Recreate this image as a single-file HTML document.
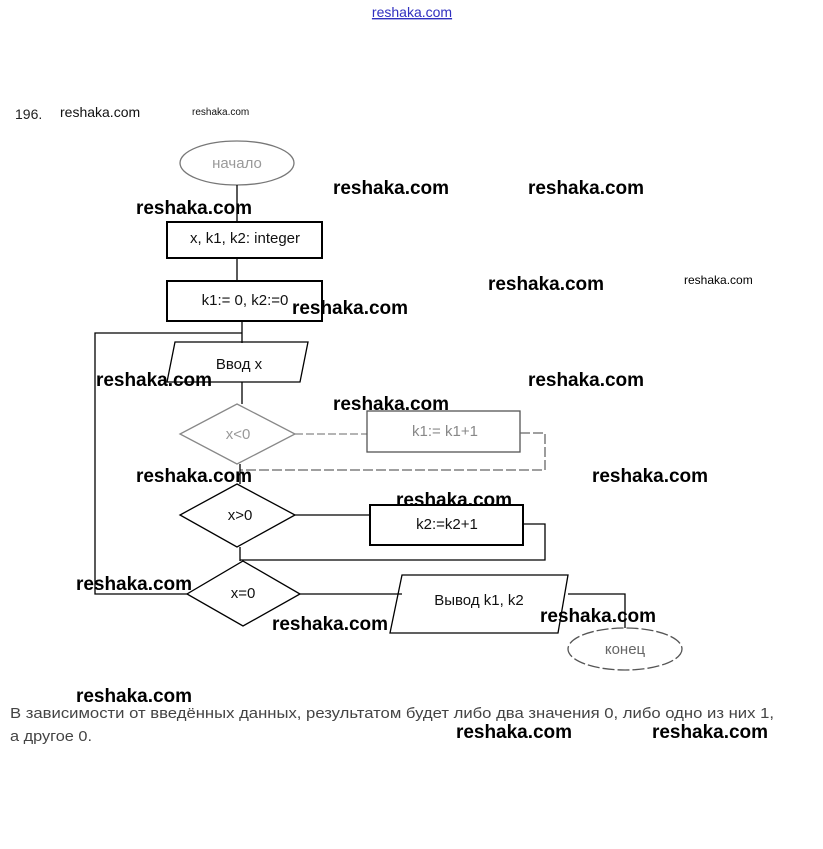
<!DOCTYPE html>
<html><head><meta charset="utf-8"><style>
html,body{margin:0;padding:0;background:#fff;}
svg{display:block;}
</style></head><body>
<svg width="823" height="849" viewBox="0 0 823 849" xmlns="http://www.w3.org/2000/svg" font-family="Liberation Sans, sans-serif">
<text x="412" y="17" font-size="14" fill="#3030c0" text-anchor="middle" text-decoration="underline">reshaka.com</text>
<text x="15" y="119" font-size="14" fill="#222">196.</text>
<text x="60" y="117" font-size="14" fill="#111">reshaka.com</text>
<text x="192" y="115" font-size="10" fill="#111">reshaka.com</text>

<g fill="none" stroke="#000" stroke-width="1.3">
<ellipse cx="237" cy="163" rx="57" ry="22" stroke="#777"/>
<line x1="237" y1="185" x2="237" y2="222"/>
<rect x="167" y="222" width="155" height="36" stroke-width="2"/>
<line x1="237" y1="258" x2="237" y2="281"/>
<rect x="167" y="281" width="155" height="40" stroke-width="2"/>
<line x1="242" y1="321" x2="242" y2="343"/>
<polyline points="242,333 95,333 95,594 187,594"/>
<polygon points="175,342 308,342 300,382 167,382"/>
<line x1="242" y1="382" x2="242" y2="404"/>
<polygon points="237,404 295,434 237,464 180,434" stroke="#888"/>
<line x1="295" y1="434" x2="367" y2="434" stroke="#888" stroke-dasharray="8 3"/>
<rect x="367" y="411" width="153" height="41" stroke="#555"/>
<polyline points="520,433 545,433 545,470 240,470" stroke="#666" stroke-dasharray="10 3"/>
<line x1="240" y1="464" x2="240" y2="484"/>
<polygon points="237,484 295,515 237,547 180,515"/>
<line x1="295" y1="515" x2="370" y2="515"/>
<rect x="370" y="505" width="153" height="40" stroke-width="2"/>
<polyline points="523,524 545,524 545,560 240,560"/>
<line x1="240" y1="547" x2="240" y2="561"/>
<polygon points="243,561 300,594 243,626 187,594"/>
<line x1="300" y1="594" x2="402" y2="594"/>
<polygon points="402,575 568,575 558,633 390,633"/>
<polyline points="568,594 625,594 625,628"/>
<ellipse cx="625" cy="649" rx="57" ry="21" stroke="#555" stroke-dasharray="12 3"/>
</g>

<g font-size="15" text-anchor="middle" fill="#111">
<text x="237" y="168" fill="#999">начало</text>
<text x="245" y="243">x, k1, k2: integer</text>
<text x="245" y="305">k1:= 0, k2:=0</text>
<text x="239" y="369">Ввод x</text>
<text x="238" y="439" fill="#999">x&lt;0</text>
<text x="445" y="436" fill="#888">k1:= k1+1</text>
<text x="240" y="520">x&gt;0</text>
<text x="447" y="529">k2:=k2+1</text>
<text x="243" y="598">x=0</text>
<text x="479" y="605">Вывод k1, k2</text>
<text x="625" y="654" fill="#666">конец</text>
</g>

<text x="10" y="718" font-size="15" fill="#444" textLength="764" lengthAdjust="spacingAndGlyphs">В зависимости от введённых данных, результатом будет либо два значения 0, либо одно из них 1,</text>
<text x="10" y="741" font-size="15" fill="#444" textLength="82" lengthAdjust="spacingAndGlyphs">а другое 0.</text>

<g font-size="19" font-weight="bold" fill="#000">
<text x="333" y="194" textLength="116">reshaka.com</text>
<text x="528" y="194" textLength="116">reshaka.com</text>
<text x="136" y="214" textLength="116">reshaka.com</text>
<text x="488" y="290" textLength="116">reshaka.com</text>
<text x="292" y="314" textLength="116">reshaka.com</text>
<text x="96" y="386" textLength="116">reshaka.com</text>
<text x="528" y="386" textLength="116">reshaka.com</text>
<text x="333" y="410" textLength="116">reshaka.com</text>
<text x="136" y="482" textLength="116">reshaka.com</text>
<text x="592" y="482" textLength="116">reshaka.com</text>
<text x="396" y="506" textLength="116">reshaka.com</text>
<text x="76" y="590" textLength="116">reshaka.com</text>
<text x="272" y="630" textLength="116">reshaka.com</text>
<text x="540" y="622" textLength="116">reshaka.com</text>
<text x="76" y="702" textLength="116">reshaka.com</text>
<text x="456" y="738" textLength="116">reshaka.com</text>
<text x="652" y="738" textLength="116">reshaka.com</text>
</g>
<text x="684" y="284" font-size="12" fill="#000">reshaka.com</text>
</svg>
</body></html>
